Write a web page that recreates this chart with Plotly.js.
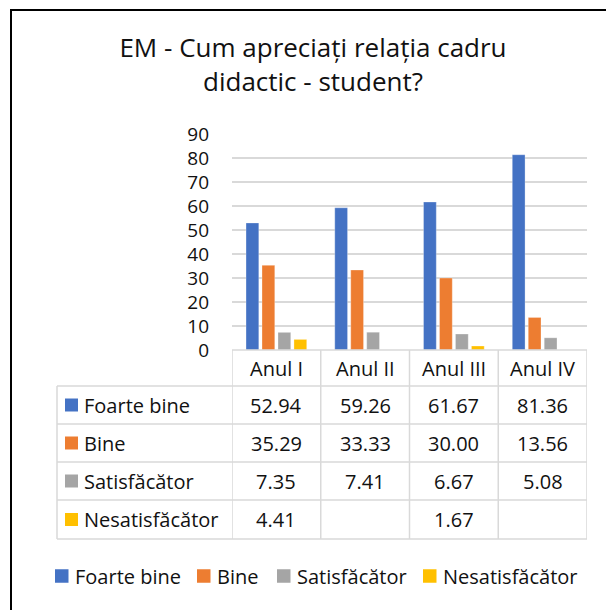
<!DOCTYPE html>
<html>
<head>
<meta charset="utf-8">
<script src="https://cdn.plot.ly/plotly-3.0.1.min.js"></script>
<style>html,body{margin:0;padding:0;background:#fff;}#chart{width:606px;height:610px;}</style>
</head>
<body>
<div id="chart"></div>
<script>
// ---- data ----
const categories = ["Anul I", "Anul II", "Anul III", "Anul IV"];
const seriesNames = ["Foarte bine", "Bine", "Satisfăcător", "Nesatisfăcător"];
const foarteBine = [52.94, 59.26, 61.67, 81.36];
const bine = [35.29, 33.33, 30.00, 13.56];
const satisfacator = [7.35, 7.41, 6.67, 5.08];
const nesatisfacator = [4.41, null, 1.67, null];
const yTicks = [0, 10, 20, 30, 40, 50, 60, 70, 80, 90];
const titleText = "EM - Cum apreciați relația cadru<br>didactic - student?";

// ---- styles ----
const colors = ["#4472C4", "#ED7D31", "#A5A5A5", "#FFC000"];
const FONT = "Open Sans, Lato, sans-serif";
const TXT = "#111111";
const GRID = "#d9d9d9";

const W = 606, H = 610, L = 232, R = 19, T = 134, B = 260;
const pw = W - L - R, ph = H - T - B;
const px2x = p => (p - L) / pw;
const py2y = p => ((H - B) - p) / ph;

const allSeries = [foarteBine, bine, satisfacator, nesatisfacator];

const traces = allSeries.map((vals, i) => ({
  type: "bar",
  name: seriesNames[i],
  x: categories,
  y: vals,
  marker: {color: colors[i], line: {color: "rgba(255,255,255,0.6)", width: 0.5}},
  hoverinfo: "skip",
  showlegend: false
}));

// table geometry (pixels)
const headerTop = 350, headerBottom = 386;
const rowEdges = [386, 424, 462, 500, 539];
const tableLeft = 57, tableRight = 587;

const shapes = [];
const lineStyle = {color: GRID, width: 1.5};
// outer frame (left & top visible)
shapes.push({type: "path", xref: "paper", yref: "paper",
  path: `M${px2x(11)},${py2y(612)} L${px2x(11)},${py2y(10)} L${px2x(608)},${py2y(10)}`,
  line: {color: "#000", width: 2}});
// header top line
shapes.push({type: "line", xref: "x", yref: "paper", x0: -0.5, x1: categories.length - 0.5,
  y0: py2y(headerTop), y1: py2y(headerTop), line: lineStyle});
// row lines
rowEdges.forEach(r => shapes.push({type: "line", xref: "paper", yref: "paper",
  x0: px2x(tableLeft), x1: px2x(tableRight), y0: py2y(r), y1: py2y(r), line: lineStyle}));
// left border of label column
shapes.push({type: "line", xref: "paper", yref: "paper", x0: px2x(tableLeft), x1: px2x(tableLeft),
  y0: py2y(rowEdges[0]), y1: py2y(rowEdges[rowEdges.length - 1]), line: lineStyle});
// column boundaries
for (let i = 0; i <= categories.length; i++) {
  shapes.push({type: "line", xref: "x", yref: "paper", x0: i - 0.5, x1: i - 0.5,
    y0: py2y(headerTop), y1: py2y(rowEdges[rowEdges.length - 1]), line: lineStyle});
}
// legend keys in table
seriesNames.forEach((n, i) => {
  const cy = (rowEdges[i] + rowEdges[i + 1]) / 2;
  shapes.push({type: "rect", xref: "paper", yref: "paper",
    x0: px2x(65), x1: px2x(78), y0: py2y(cy - 6.5), y1: py2y(cy + 6.5),
    fillcolor: colors[i], line: {width: 0}});
});

const annotations = [];
const tFont = {family: FONT, size: 20, color: TXT};
categories.forEach((c, j) => annotations.push({xref: "x", yref: "paper", x: j,
  y: py2y((headerTop + headerBottom) / 2), text: c, showarrow: false,
  xanchor: "center", yanchor: "middle", font: tFont}));
seriesNames.forEach((n, i) => {
  const cy = (rowEdges[i] + rowEdges[i + 1]) / 2;
  annotations.push({xref: "paper", yref: "paper", x: px2x(82), y: py2y(cy), text: n,
    showarrow: false, xanchor: "left", yanchor: "middle", font: tFont});
  allSeries[i].forEach((v, j) => {
    if (v === null) return;
    annotations.push({xref: "x", yref: "paper", x: j, y: py2y(cy), text: v.toFixed(2),
      showarrow: false, xanchor: "center", yanchor: "middle", font: tFont});
  });
});

// bottom legend (keys + names)
const legendY = 576;
const legendKeyX = [55, 197, 277, 423];
seriesNames.forEach((n, i) => {
  const kx = legendKeyX[i];
  shapes.push({type: "rect", xref: "paper", yref: "paper",
    x0: px2x(kx), x1: px2x(kx + 13.5), y0: py2y(legendY - 6.75), y1: py2y(legendY + 6.75),
    fillcolor: colors[i], line: {width: 0}});
  annotations.push({xref: "paper", yref: "paper", x: px2x(kx + 18), y: py2y(legendY),
    text: n, showarrow: false, xanchor: "left", yanchor: "middle", font: tFont});
});

const layout = {
  width: W, height: H,
  margin: {l: L, r: R, t: T, b: B, pad: 0},
  paper_bgcolor: "#fff", plot_bgcolor: "#fff",
  font: {family: FONT, color: TXT},
  title: {text: titleText, font: {family: FONT, size: 26, color: TXT},
    xref: "container", yref: "container", x: 313 / W, xanchor: "center",
    y: 1 - 57 / H, yanchor: "top"},
  barmode: "group", bargap: 0.28, bargroupgap: 0.2,
  xaxis: {type: "category", range: [-0.5, categories.length - 0.5], showticklabels: false,
    showgrid: false, zeroline: false, showline: false, ticks: "", fixedrange: true},
  yaxis: {range: [0, 90], tickvals: yTicks, ticktext: yTicks.map(String),
    showgrid: true, gridcolor: GRID, gridwidth: 1.2, zeroline: false, showline: false,
    ticks: "", ticklabelstandoff: 22, tickfont: {family: FONT, size: 19, color: TXT}, fixedrange: true},
  showlegend: false,
  shapes: shapes,
  annotations: annotations
};

Plotly.newPlot("chart", traces, layout, {displayModeBar: false, staticPlot: true});
</script>
</body>
</html>
